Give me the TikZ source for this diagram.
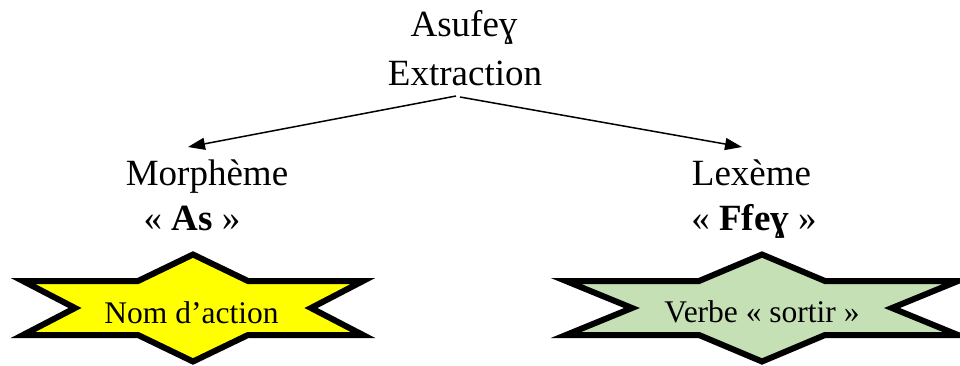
\documentclass[tikz,border=0pt]{standalone}
\usepackage{fontspec}
\setmainfont{Liberation Serif}
\usetikzlibrary{arrows.meta}
\definecolor{starYellow}{RGB}{255,255,0}
\definecolor{starGreen}{RGB}{197,224,180}
\begin{document}
\begin{tikzpicture}[x=1pt,y=-1pt,
  big/.style={font=\fontsize{37}{44}\selectfont, inner sep=0pt, anchor=base},
  small/.style={font=\fontsize{31.5}{38}\selectfont, inner sep=0pt, anchor=base},
  conn/.style={line width=1.5pt, -{Triangle[length=17pt,width=12pt]}},
  starshape/.style={draw=black, line width=6pt, line join=miter, miter limit=10}]
\useasboundingbox (0,0) rectangle (960,365);

% top labels
\node[big] (asufey) at (464,36) {Asufeɣ};
\node[big] (extr) at (465,85) {Extraction};

% branch labels
\node[big] (morph) at (207,185) {Morphème};
\node[big] (as) at (192,230) {« \textbf{As} »};
\node[big] (lex) at (751.5,185) {Lexème};
\node[big] (ffey) at (754,230) {« \textbf{Ffeɣ} »};

% connectors
\coordinate (lstart) at (456,96);
\coordinate (rstart) at (460,97);
\coordinate (ltip) at (188,147);
\coordinate (rtip) at (742,147);
\draw[conn] (lstart) -- (ltip);
\draw[conn] (rstart) -- (rtip);

% stars
\draw[starshape, fill=starYellow]
  (193,254.5) -- (248,281) -- (363,281) -- (311,308) -- (363,335) -- (248,335)
  -- (193,361.5) -- (138,335) -- (23,335) -- (75,308) -- (23,281) -- (138,281) -- cycle;
\draw[starshape, fill=starGreen]
  (762,254.5) -- (825,281) -- (958,281) -- (892,308) -- (958,335) -- (825,335)
  -- (762,361.5) -- (699,335) -- (566,335) -- (632,308) -- (566,281) -- (699,281) -- cycle;

\node[small] (nom) at (191.5,323) {Nom d’action};
\node[small] (verbe) at (762,322) {Verbe « sortir »};
\end{tikzpicture}
\end{document}
